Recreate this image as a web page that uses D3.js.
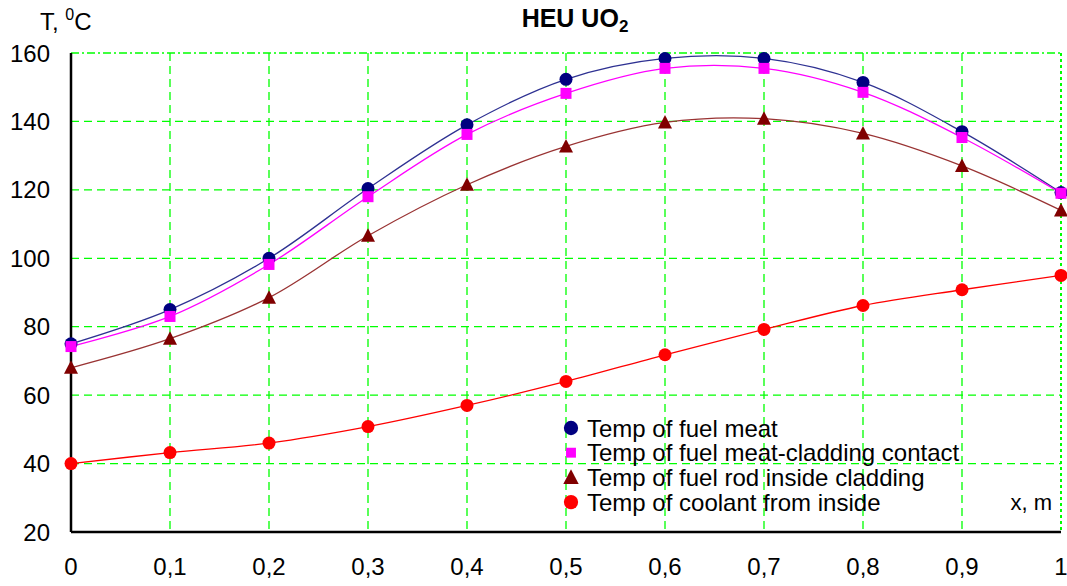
<!DOCTYPE html>
<html>
<head>
<meta charset="utf-8">
<script src="https://cdn.jsdelivr.net/npm/d3@7"></script>
<style>
  body { margin: 0; background: #fff; }
  text { font-family: Arial, "Liberation Sans", sans-serif; fill: #000; }
</style>
</head>
<body>
<div id="chart"></div>
<script>
var width = 1067, height = 586;
var margin = {top: 53, right: 6, bottom: 54, left: 71};
var innerW = width - margin.left - margin.right,
    innerH = height - margin.top - margin.bottom;

// data
var xs = [0, 0.1, 0.2, 0.3, 0.4, 0.5, 0.6, 0.7, 0.8, 0.9, 1];
var fuelMeat = [75, 85, 100, 120.4, 139, 152.3, 158.4, 158.4, 151.4, 137, 119.2];
var contact = [74.2, 83, 98.2, 118, 136.2, 148.2, 155.5, 155.5, 148.5, 135.3, 119];
var cladding = [68, 76.5, 88.5, 106.6, 121.5, 132.7, 139.7, 140.8, 136.5, 127, 114];
var coolant = [40, 43.2, 46, 50.8, 57, 64, 71.8, 79.2, 86.2, 90.8, 95];
var yTicks = [20, 40, 60, 80, 100, 120, 140, 160];
var legendNames = ["Temp of fuel meat", "Temp of fuel meat-cladding contact",
                   "Temp of fuel rod inside cladding", "Temp of coolant from inside"];

var series = [
    {name: legendNames[0], values: fuelMeat, marker: "circle", color: "#000080", line: "#2e3192"},
    {name: legendNames[1], values: contact, marker: "square", color: "#ff00ff", line: "#ff00ff"},
    {name: legendNames[2], values: cladding, marker: "triangle", color: "#800000", line: "#993333"},
    {name: legendNames[3], values: coolant, marker: "circle", color: "#ff0000", line: "#ff0000"}
];

var svg = d3.select("#chart")
    .append("svg")
        .attr("width", width)
        .attr("height", height);
var g = svg.append("g")
    .attr("transform", "translate(" + margin.left + "," + margin.top + ")");

var xScale = d3.scaleLinear().domain([0, 1]).range([0, innerW]);
var yScale = d3.scaleLinear().domain([20, 160]).range([innerH, 0]);

// grid
g.append("g")
    .selectAll("line")
    .data(xs.slice(1, -1))
    .enter()
    .append("line")
        .attr("x1", function(d) { return xScale(d); })
        .attr("x2", function(d) { return xScale(d); })
        .attr("y1", 0).attr("y2", innerH)
        .attr("stroke", "#00ff00")
        .attr("stroke-width", 1.3)
        .attr("stroke-dasharray", "8,5");

g.append("g")
    .selectAll("line")
    .data(yTicks.slice(1))
    .enter()
    .append("line")
        .attr("x1", 0).attr("x2", innerW)
        .attr("y1", function(d) { return yScale(d); })
        .attr("y2", function(d) { return yScale(d); })
        .attr("stroke", "#00ff00")
        .attr("stroke-width", 1.3)
        .attr("stroke-dasharray", function(d) { return d == 160 ? "8,3,2,3" : "8,5"; });

// right border dotted
g.append("line")
    .attr("x1", xScale(1)).attr("x2", xScale(1))
    .attr("y1", 0).attr("y2", innerH)
    .attr("stroke", "#00ff00")
    .attr("stroke-width", 2)
    .attr("stroke-dasharray", "3,3");

// axes lines
g.append("line")
    .attr("x1", 0).attr("x2", 0).attr("y1", 0).attr("y2", innerH)
    .attr("stroke", "#000").attr("stroke-width", 2.5);
g.append("line")
    .attr("x1", 0).attr("x2", innerW).attr("y1", innerH).attr("y2", innerH)
    .attr("stroke", "#000").attr("stroke-width", 2.5);

// tick labels
var fmt = function(d) { return String(d).replace(".", ","); };
g.append("g")
    .selectAll("text")
    .data(yTicks)
    .enter()
    .append("text")
        .attr("x", -21)
        .attr("y", function(d) { return yScale(d); })
        .attr("dy", "0.36em")
        .attr("text-anchor", "end")
        .style("font-size", "24px")
        .text(function(d) { return d; });

g.append("g")
    .selectAll("text")
    .data(xs)
    .enter()
    .append("text")
        .attr("x", function(d) { return xScale(d); })
        .attr("y", innerH + 43)
        .attr("text-anchor", "middle")
        .style("font-size", "24px")
        .text(fmt);

// lines
var line = d3.line()
    .x(function(d, i) { return xScale(xs[i]); })
    .y(function(d) { return yScale(d); })
    .curve(d3.curveCatmullRom.alpha(0.5));

g.append("g")
    .selectAll("path")
    .data(series)
    .enter()
    .append("path")
        .attr("d", function(d) { return line(d.values); })
        .attr("fill", "none")
        .attr("stroke", function(d) { return d.line; })
        .attr("stroke-width", 1.3);

function drawMarker(sel, type, color) {
    if (type == "circle") {
        sel.append("circle").attr("r", 6.5).attr("fill", color);
    } else if (type == "square") {
        sel.append("rect").attr("x", -5.5).attr("y", -5.5)
            .attr("width", 11).attr("height", 11).attr("fill", color);
    } else {
        sel.append("path").attr("d", "M0,-7.5L7,6L-7,6Z").attr("fill", color);
    }
}

series.forEach(function(s) {
    var pts = g.append("g")
        .selectAll("g")
        .data(s.values)
        .enter()
        .append("g")
            .attr("transform", function(d, i) {
                return "translate(" + xScale(xs[i]) + "," + yScale(d) + ")";
            });
    drawMarker(pts, s.marker, s.color);
});

// legend
var legend = svg.append("g").attr("transform", "translate(571,428)");
series.forEach(function(s, i) {
    var row = legend.append("g").attr("transform", "translate(0," + (i * 24.7) + ")");
    var m = row.append("g").attr("transform", s.marker == "square" ? "scale(0.9)" : "scale(1.1)");
    drawMarker(m, s.marker, s.color);
    row.append("text")
        .attr("x", 16)
        .attr("dy", "0.36em")
        .style("font-size", "24px")
        .text(s.name);
});

// titles
svg.append("text")
    .attr("x", 1052).attr("y", 502)
    .attr("dy", "0.36em")
    .attr("text-anchor", "end")
    .style("font-size", "22px")
    .text("x, m");

var yt = svg.append("text")
    .attr("x", 40).attr("y", 30)
    .style("font-size", "24px");
yt.append("tspan").text("T, ");
yt.append("tspan").attr("dy", -10).style("font-size", "16px").text("0");
yt.append("tspan").attr("dy", 10).text("C");

var title = svg.append("text")
    .attr("x", 575).attr("y", 27)
    .attr("text-anchor", "middle")
    .style("font-size", "25px")
    .style("font-weight", "bold");
title.append("tspan").text("HEU UO");
title.append("tspan").attr("dy", 5).style("font-size", "17px").text("2");
</script>
</body>
</html>
